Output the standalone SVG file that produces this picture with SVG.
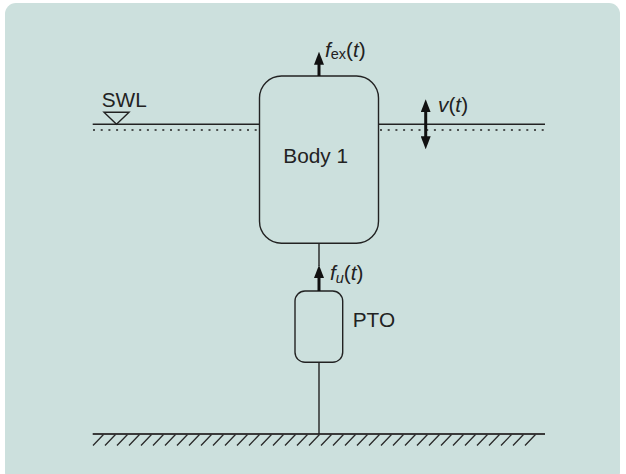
<svg xmlns="http://www.w3.org/2000/svg" width="626" height="474" viewBox="0 0 626 474">
<defs>
<style>
.bg{fill:#cce0dd}
.box{fill:none;stroke:#222;stroke-width:1.4}
.ln{stroke:#222;stroke-width:1.4;fill:none}
.dot{stroke:#222;stroke-width:1.3;stroke-dasharray:2 5.7;fill:none}
.gnd{stroke:#3a3a3a;stroke-width:2;fill:none}
.hatch{stroke:#2a2a2a;stroke-width:1.3;fill:none}
.force{stroke:#111;stroke-width:3;fill:none}
.t{font-family:"Liberation Sans",Arial,sans-serif;font-size:20.8px;fill:#222}
.it{font-style:italic}
.sub{font-size:14.5px}
</style>
<marker id="ah" viewBox="0 0 13 10" refX="1" refY="5" markerWidth="13" markerHeight="10" markerUnits="userSpaceOnUse" orient="auto-start-reverse">
<path d="M0,0 L13,5 L0,10 z" fill="#111"/>
</marker>
</defs>
<rect class="bg" x="5" y="3" width="615" height="480" rx="11"/>

<g id="water">
<line class="ln" x1="92.7" y1="124.3" x2="259.5" y2="124.3"/>
<line class="ln" x1="378.5" y1="124.3" x2="545" y2="124.3"/>
<line class="dot" x1="93" y1="130" x2="258" y2="130"/>
<line class="dot" x1="380" y1="130" x2="546" y2="130"/>
<polygon class="box" points="104,112.3 129,112.3 116.5,124.3"/>
<text class="t" x="101.7" y="106.7">SWL</text>
</g>

<g id="ground">
<line class="gnd" x1="92.7" y1="434" x2="545" y2="434"/>
<path class="hatch" d="M93,445.5 l10.5,-11 M105,445.5 l10.5,-11 M117,445.5 l10.5,-11 M129,445.5 l10.5,-11 M141,445.5 l10.5,-11 M153,445.5 l10.5,-11 M165,445.5 l10.5,-11 M177,445.5 l10.5,-11 M189,445.5 l10.5,-11 M201,445.5 l10.5,-11 M213,445.5 l10.5,-11 M225,445.5 l10.5,-11 M237,445.5 l10.5,-11 M249,445.5 l10.5,-11 M261,445.5 l10.5,-11 M273,445.5 l10.5,-11 M285,445.5 l10.5,-11 M297,445.5 l10.5,-11 M309,445.5 l10.5,-11 M321,445.5 l10.5,-11 M333,445.5 l10.5,-11 M345,445.5 l10.5,-11 M357,445.5 l10.5,-11 M369,445.5 l10.5,-11 M381,445.5 l10.5,-11 M393,445.5 l10.5,-11 M405,445.5 l10.5,-11 M417,445.5 l10.5,-11 M429,445.5 l10.5,-11 M441,445.5 l10.5,-11 M453,445.5 l10.5,-11 M465,445.5 l10.5,-11 M477,445.5 l10.5,-11 M489,445.5 l10.5,-11 M501,445.5 l10.5,-11 M513,445.5 l10.5,-11 M525,445.5 l10.5,-11"/>
</g>

<g id="body1">
<rect class="box" x="259.5" y="76" width="119" height="167.3" rx="22"/>
<text class="t" x="283.3" y="163.3">Body 1</text>
</g>

<g id="pto">
<rect class="box" x="295" y="291" width="47.7" height="71.3" rx="10"/>
<text class="t" x="352.7" y="327.3">PTO</text>
</g>

<g id="connectors">
<line class="ln" x1="319" y1="243.3" x2="319" y2="266"/>
<line class="ln" x1="319" y1="362.3" x2="319" y2="434"/>
<line class="force" x1="319" y1="291" x2="319" y2="277" marker-end="url(#ah)"/>
<line class="force" x1="319" y1="76" x2="319" y2="63.7" marker-end="url(#ah)"/>
<line class="force" x1="425.7" y1="111.3" x2="425.7" y2="137.3" marker-start="url(#ah)" marker-end="url(#ah)"/>
</g>

<g id="labels">
<text class="t" x="325" y="56.7"><tspan class="it">f</tspan><tspan class="sub" dy="2">ex</tspan><tspan dy="-2">(</tspan><tspan class="it">t</tspan>)</text>
<text class="t" x="438" y="111.7"><tspan class="it">v</tspan>(<tspan class="it">t</tspan>)</text>
<text class="t" x="330" y="280"><tspan class="it">f</tspan><tspan class="sub it" dy="3">u</tspan><tspan dy="-3">(</tspan><tspan class="it">t</tspan>)</text>
</g>
</svg>
